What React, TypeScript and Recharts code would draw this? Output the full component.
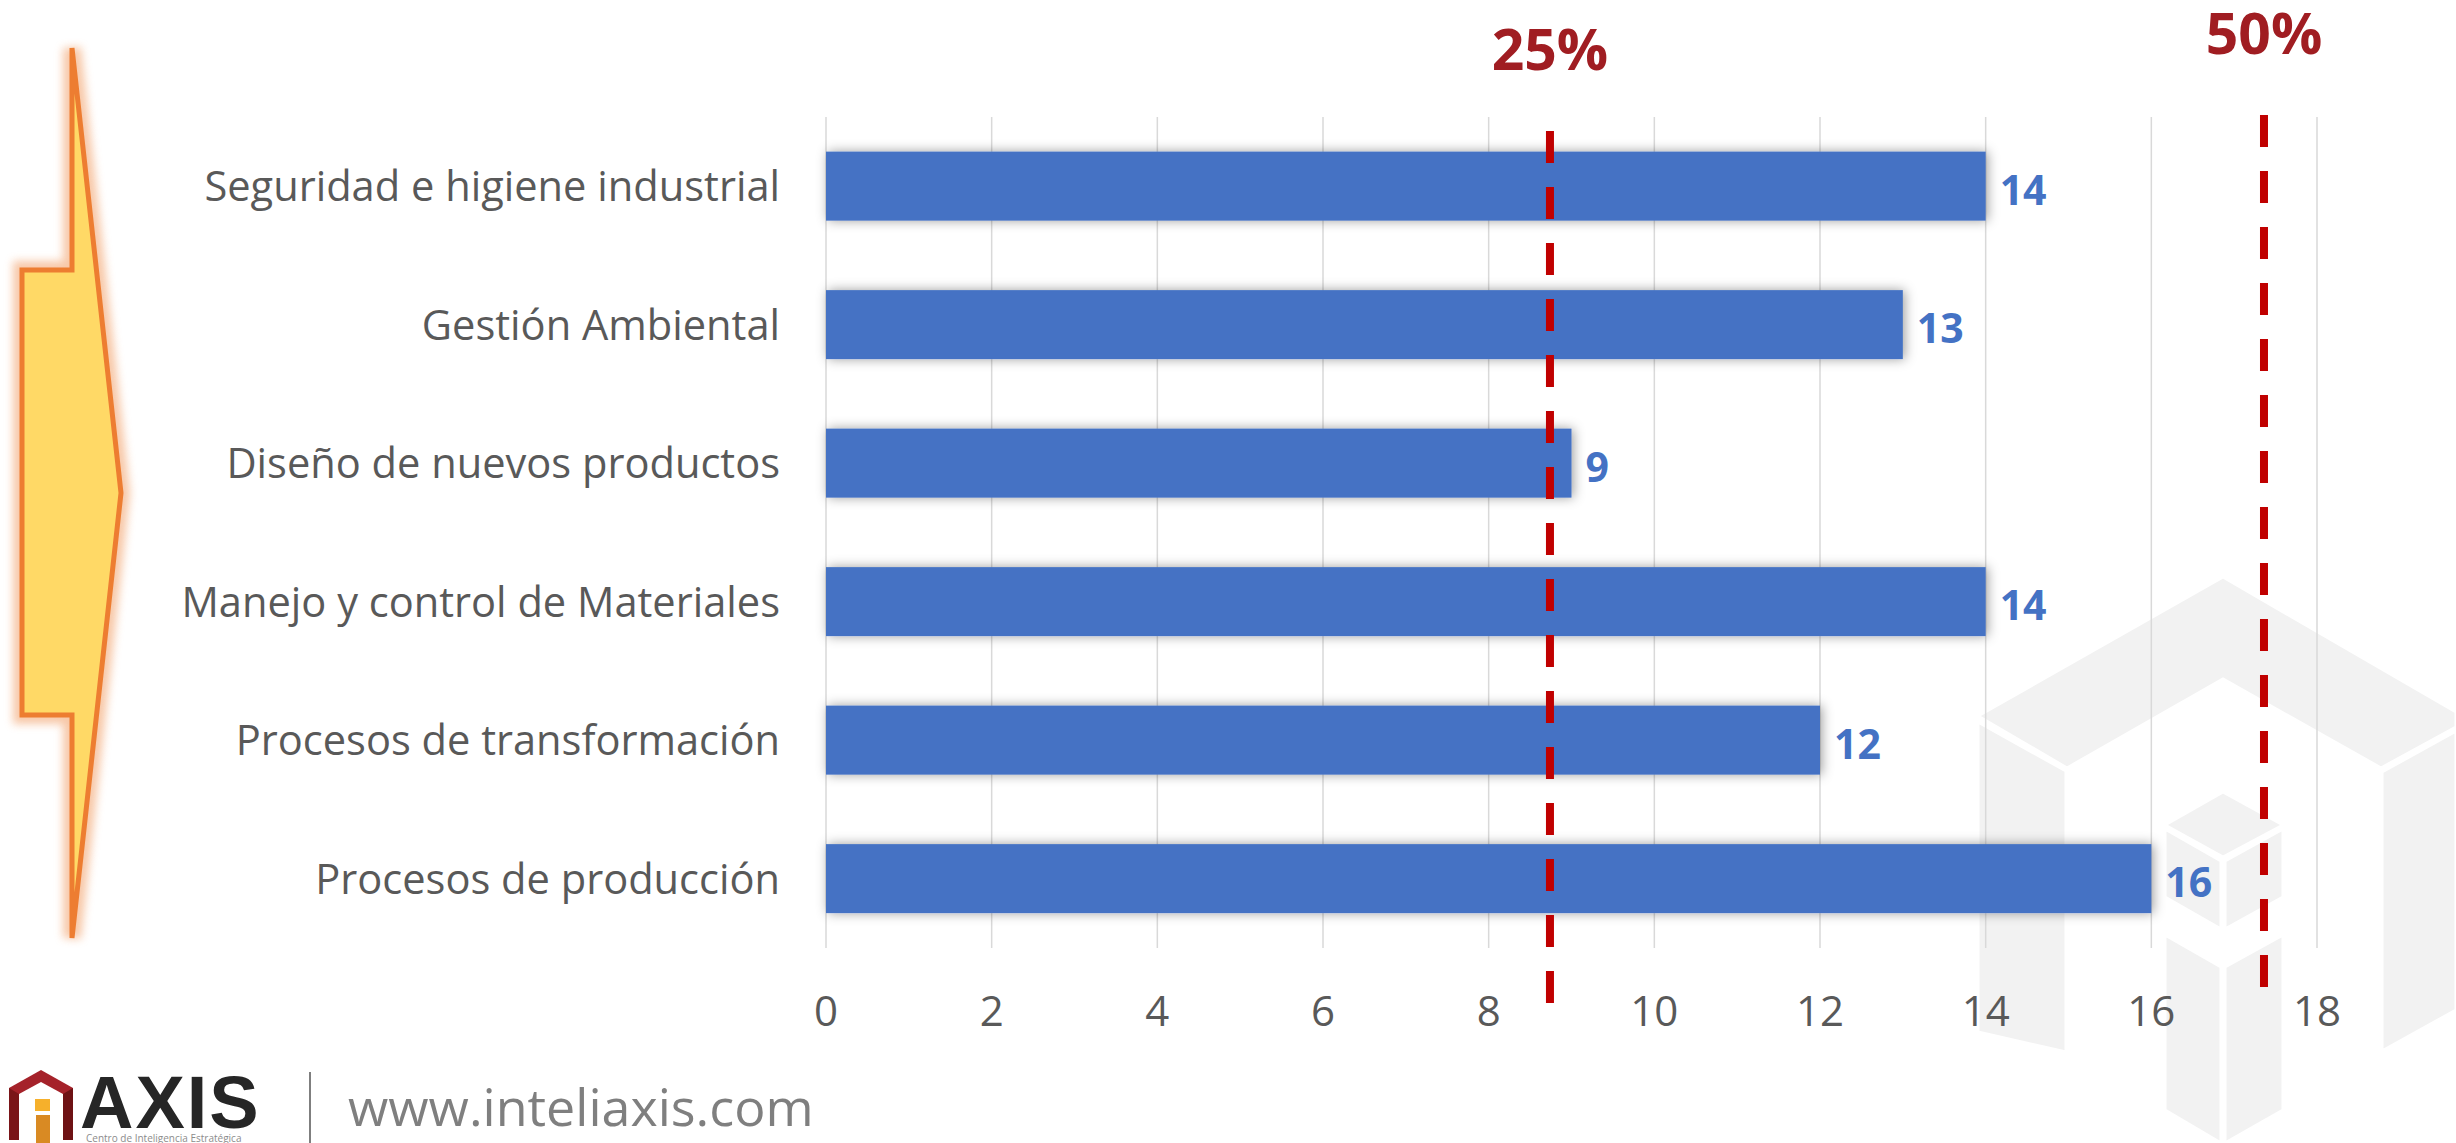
/**
 * Horizontal bar chart - number of mentions per training area,
 * with 25% / 50% dashed threshold markers. Recharts, fixed size.
 */

import React from 'react'
import {
  BarChart, Bar, XAxis, YAxis, CartesianGrid, ReferenceLine, LabelList
} from 'recharts'

const categories = [
  'Seguridad e higiene industrial',
  'Gestión Ambiental',
  'Diseño de nuevos productos',
  'Manejo y control de Materiales',
  'Procesos de transformación',
  'Procesos de producción',
]
const counts = [14, 13, 9, 14, 12, 16]
const xTicks = [0, 2, 4, 6, 8, 10, 12, 14, 16, 18]
const thresholdLabels = ['25%', '50%']
const thresholdValues = [8.74, 17.36]

const data = categories.map((name, i) => ({ name, value: counts[i] }))

const BLUE = '#4472C4'
const RED = '#C00000'
const DARK_RED = '#A01D22'
const GREY_TEXT = '#595959'

// dashed threshold line, stretched a bit past the plot area like the original
const dashed = (extTop: number, extBottom: number) => (p: any) => (
  <line
    x1={p.x1}
    x2={p.x2}
    y1={Math.min(p.y1, p.y2) + extTop}
    y2={Math.max(p.y1, p.y2) + extBottom}
    stroke={RED}
    strokeWidth={8}
    strokeDasharray="32 24"
  />
)

const ShadowBar = (p: any) => (
  <rect x={p.x} y={p.y} width={p.width} height={p.height} fill={BLUE} filter="url(#barShadow)" />
)

function Watermark() {
  const f = '#F2F2F2'
  return (
    <svg width={2456} height={1143} style={{ position: 'absolute', left: 0, top: 0 }}>
      <g fill={f} stroke="#fff" strokeWidth={3}>
        <polygon points="1978,716 2223,577 2456,712 2456,727 2381,768 2223,679 2067,768" />
        <polygon points="1978,722 2066,771 2066,1052 1978,1032" />
        <polygon points="2382,772 2456,731 2456,1010 2382,1051" />
        <polygon points="2165,825 2223,792 2283,825 2223,857" />
        <polygon points="2165,829 2221,861 2221,929 2165,897" />
        <polygon points="2225,861 2283,829 2283,897 2225,929" />
        <polygon points="2165,935 2221,967 2221,1143 2165,1110" />
        <polygon points="2225,967 2283,935 2283,1110 2225,1143" />
      </g>
    </svg>
  )
}

function Decor() {
  const arrow = '72,48 121,493 72,938 72,715 22,715 22,270 72,270'
  return (
    <svg width={2456} height={1143} style={{ position: 'absolute', left: 0, top: 0, pointerEvents: 'none' }}>
      <defs>
        <filter id="barShadow" x="-10%" y="-40%" width="120%" height="180%">
          <feDropShadow dx={2} dy={0} stdDeviation={6} floodColor="#000" floodOpacity={0.38} />
        </filter>
        <filter id="glow" x="-50%" y="-10%" width="200%" height="120%">
          <feGaussianBlur stdDeviation={4} />
        </filter>
      </defs>

      {/* left arrow */}
      <polygon points={arrow} fill="none" stroke="#F4B183" strokeWidth={18} opacity={0.7} filter="url(#glow)" />
      <polygon points={arrow} fill="#FFD966" stroke="#ED7D31" strokeWidth={5} strokeLinejoin="miter" />

      {/* logo */}
      <polygon points="9,1088 41,1070 73,1088 73,1140 9,1140" fill="#A5222A" />
      <polygon points="9,1088 19,1094 19,1140 9,1140" fill="#7A1518" />
      <polygon points="63,1094 73,1088 73,1140 63,1140" fill="#6E1214" />
      <polygon points="19,1094 41,1082 63,1094 63,1140 19,1140" fill="#fff" />
      <rect x={35} y={1099} width={15} height={12} fill="#F6B02B" />
      <rect x={36} y={1115} width={14} height={28} fill="#D98A23" />
      <text x={80} y={1128} fontFamily="'Liberation Sans', Arial, sans-serif" fontWeight={700} fontSize={74} letterSpacing={2} fill="#262626">AXIS</text>
      <text x={86} y={1142} fontSize={10} fill="#8C8C8C">Centro de Inteligencia Estratégica</text>
      <line x1={310} y1={1072} x2={310} y2={1143} stroke="#7F7F7F" strokeWidth={2} />
      <text x={348} y={1126} fontSize={52} fill="#7F7F7F">www.inteliaxis.com</text>
    </svg>
  )
}

export default function App() {
  return (
    <div
      style={{
        position: 'absolute', left: 0, top: 0, width: 2456, height: 1143,
        background: '#fff', overflow: 'hidden', fontFamily: '"Open Sans", sans-serif',
      }}
    >
      <Watermark />
      <div style={{ position: 'absolute', left: 0, top: 0 }}>
        <BarChart
          width={2456}
          height={1143}
          data={data}
          layout="vertical"
          margin={{ top: 117, right: 139, bottom: 135, left: 0 }}
          barCategoryGap="25%"
        >
          <CartesianGrid horizontal={false} stroke="#D9D9D9" strokeWidth={1.5} />
          <XAxis
            type="number"
            domain={[0, 18]}
            ticks={xTicks}
            interval={0}
            axisLine={false}
            tickLine={false}
            tickMargin={42}
            height={60}
            tick={{ fill: GREY_TEXT, fontSize: 42 }}
          />
          <YAxis
            type="category"
            dataKey="name"
            width={826}
            interval={0}
            axisLine={false}
            tickLine={false}
            tickMargin={40}
            tick={{ fill: GREY_TEXT, fontSize: 41.6 }}
          />
          <Bar dataKey="value" fill={BLUE} shape={ShadowBar} isAnimationActive={false}>
            <LabelList dataKey="value" position="right" offset={14} dy={4} fill={BLUE} fontSize={41} fontWeight={700} />
          </Bar>
          <ReferenceLine
            x={thresholdValues[0]}
            shape={dashed(14, 55)}
            label={{ value: thresholdLabels[0], position: 'top', offset: 47, fill: DARK_RED, fontSize: 57, fontWeight: 700 }}
          />
          <ReferenceLine
            x={thresholdValues[1]}
            shape={dashed(-2, 39)}
            label={{ value: thresholdLabels[1], position: 'top', offset: 63, fill: DARK_RED, fontSize: 57, fontWeight: 700 }}
          />
        </BarChart>
      </div>
      <Decor />
    </div>
  )
}
